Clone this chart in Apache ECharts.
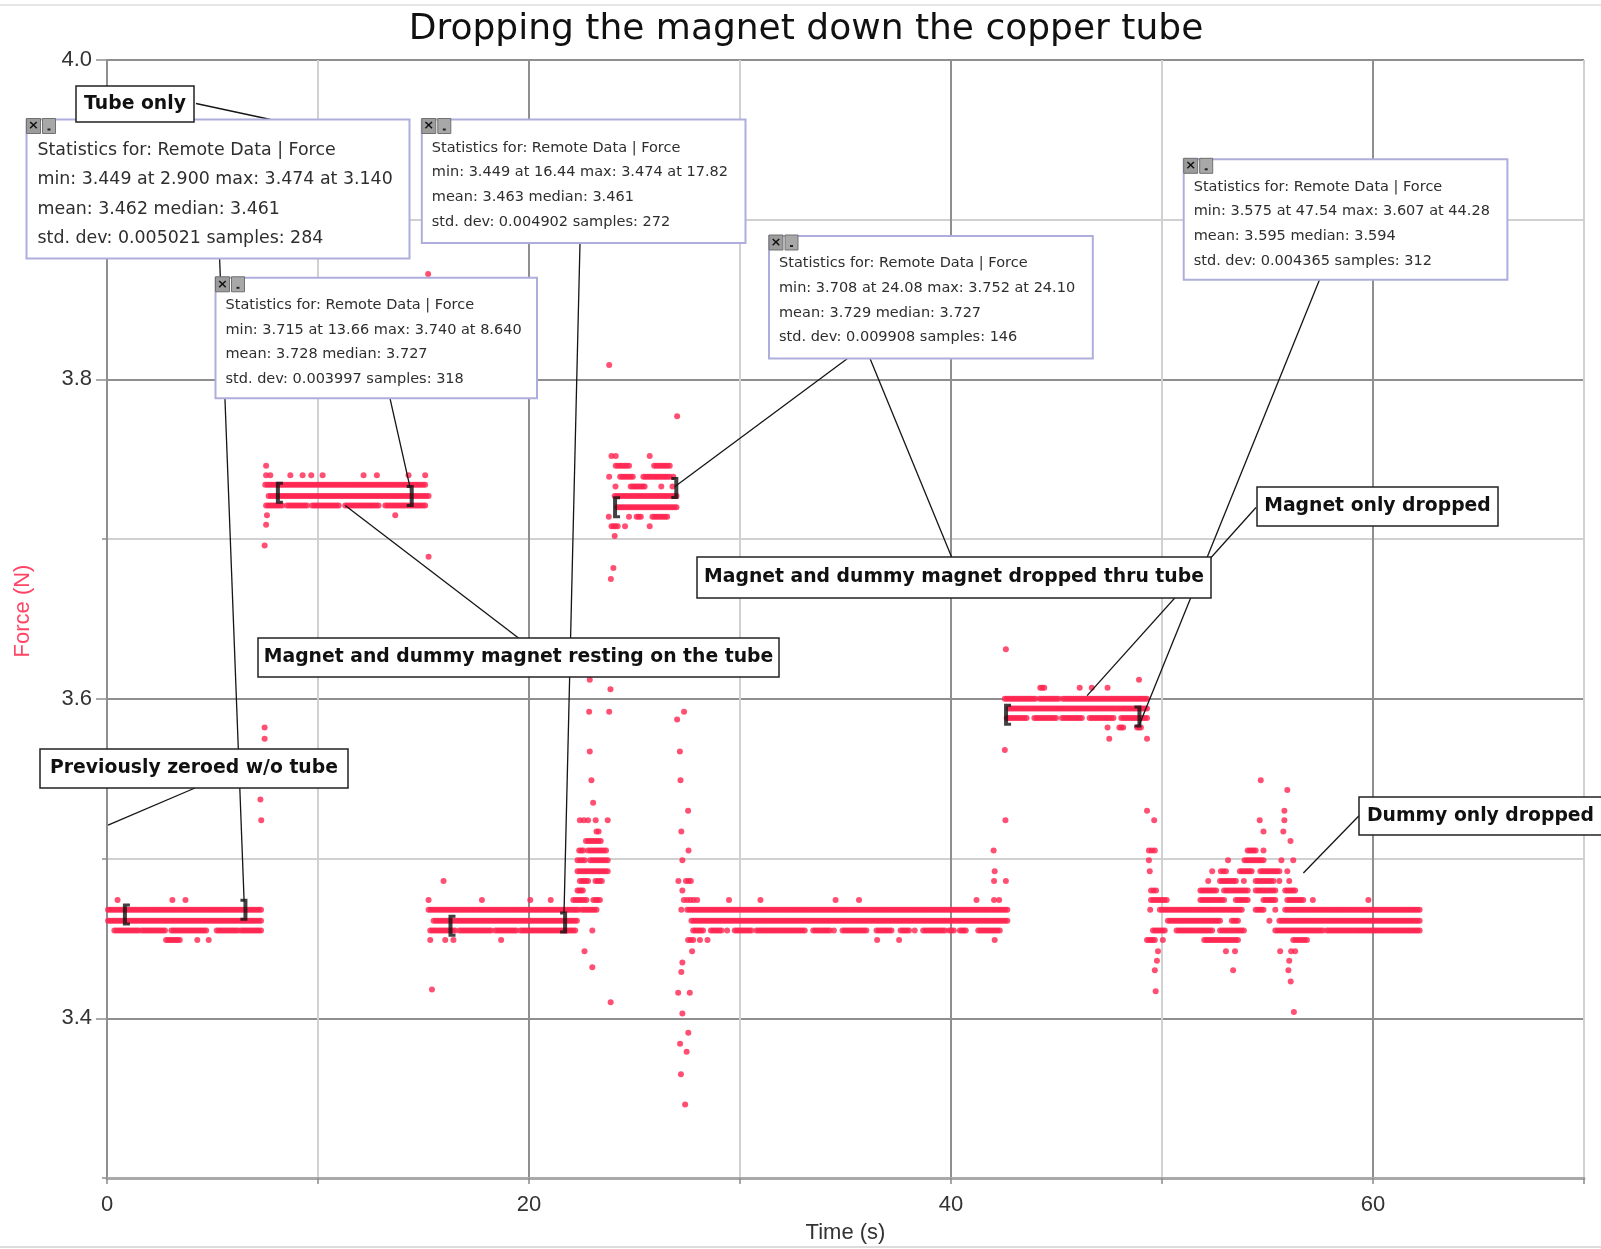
<!DOCTYPE html>
<html><head><meta charset="utf-8">
<script src="https://cdn.jsdelivr.net/npm/echarts@6/dist/echarts.min.js"></script>
<style>html,body{margin:0;padding:0;background:#fff}#c{width:1601px;height:1249px}</style>
</head><body><div id="c"></div>
<script>
// ================= DATA =================
const chartTitle = 'Dropping the magnet down the copper tube';
const xName = 'Time (s)';
const yName = 'Force (N)';
const xTickLabels = ['0', '20', '40', '60'];
const yTickLabels = ['3.4', '3.6', '3.8', '4.0'];

// Runs of consecutive samples sitting on one quantised force level: [force, tStart, tEnd]
// Isolated samples: [time, force]
const runsTubeOnly = [
  [3.468, 0.05, 7.30], [3.461, 0.05, 7.30],
  [3.455, 0.35, 1.50], [3.455, 1.65, 2.75], [3.455, 3.05, 4.70], [3.455, 5.20, 6.20], [3.455, 6.35, 7.30],
  [3.449, 2.80, 3.45]
];
const ptsTubeOnly = [[0.50,3.474],[3.10,3.474],[3.72,3.474],[4.28,3.449],[4.82,3.449],
  [7.27,3.537],[7.31,3.524],[7.47,3.582],[7.47,3.575],[7.47,3.696],[7.54,3.709]];

const runsResting = [
  [3.734, 7.50, 15.08], [3.727, 7.66, 15.24],
  [3.721, 7.54, 8.30], [3.721, 8.53, 9.48], [3.721, 9.72, 10.98], [3.721, 11.29, 12.87], [3.721, 13.19, 15.08]
];
const ptsResting = [[7.54,3.746],[7.54,3.740],[7.74,3.740],[8.69,3.740],[9.27,3.740],[9.68,3.740],[10.22,3.740],
  [12.16,3.740],[12.79,3.740],[14.29,3.740],[15.08,3.740],[7.58,3.715],[13.66,3.715],[15.22,3.866],[15.24,3.689]];

const runsTubeOnly2 = [
  [3.468, 15.24, 22.34], [3.461, 15.48, 22.27],
  [3.455, 15.32, 16.50], [3.455, 16.70, 18.20], [3.455, 18.40, 19.40], [3.455, 19.60, 22.19]
];
const ptsTubeOnly2 = [[15.24,3.474],[17.77,3.474],[20.06,3.474],[21.03,3.474],[15.32,3.449],[16.03,3.449],
  [16.42,3.449],[18.68,3.449],[15.95,3.486],[15.40,3.418]];

const runsRise = [
  [3.511, 22.70, 23.40],
  [3.505, 22.38, 22.57], [3.505, 22.80, 23.65],
  [3.499, 22.30, 22.64], [3.499, 22.90, 23.73],
  [3.492, 22.30, 23.73],
  [3.486, 22.41, 22.80], [3.486, 23.15, 23.45],
  [3.480, 22.30, 22.55],
  [3.474, 22.10, 22.72], [3.474, 23.05, 23.36],
  [3.468, 22.50, 23.20]
];
const ptsRise = [[22.41,3.524],[22.60,3.524],[22.80,3.524],[23.16,3.524],[23.73,3.524],[23.20,3.517],[23.30,3.517],
  [23.00,3.455],[22.63,3.442],[23.00,3.432],[23.87,3.410],[22.85,3.592],[22.88,3.612],[22.88,3.567],[22.96,3.549],
  [23.04,3.535],[23.80,3.592],[23.86,3.606],[23.80,3.809]];

const runsPairInTube = [
  [3.746, 24.11, 24.74], [3.746, 25.93, 26.67],
  [3.739, 24.32, 24.92], [3.739, 25.42, 26.67],
  [3.733, 24.82, 25.48],
  [3.727, 24.06, 26.99], [3.720, 24.17, 26.99],
  [3.714, 25.10, 25.30], [3.714, 25.85, 26.55],
  [3.708, 23.91, 24.20]
];
const ptsPairInTube = [[23.91,3.752],[24.11,3.752],[25.72,3.752],[23.80,3.739],[26.84,3.739],[24.10,3.733],
  [26.27,3.733],[26.80,3.733],[23.78,3.714],[24.74,3.714],[24.55,3.708],[25.72,3.708],[24.06,3.702],
  [24.00,3.682],[23.88,3.675],[27.02,3.777]];

const ptsDescent = [[27.02,3.587],[27.35,3.592],[27.15,3.567],[27.18,3.549],[27.54,3.530],[27.22,3.517],
  [27.56,3.505],[27.27,3.499],[27.08,3.486],[27.44,3.486],[27.56,3.486],[27.67,3.486],[27.27,3.480],
  [27.34,3.474],[27.50,3.474],[27.65,3.474],[27.80,3.474],[27.97,3.474],[27.22,3.468],[27.54,3.449],
  [27.66,3.449],[27.78,3.449],[28.10,3.449],[28.46,3.449],[27.73,3.442],[27.27,3.435],[27.22,3.429],
  [27.07,3.416],[27.62,3.416],[27.27,3.403],[27.55,3.391],[27.16,3.384],[27.47,3.379],[27.20,3.365],[27.40,3.346]];

const runsTubeOnly3 = [
  [3.468, 27.50, 42.67], [3.461, 27.70, 42.67],
  [3.455, 27.78, 28.25], [3.455, 28.62, 29.12], [3.455, 29.75, 30.54], [3.455, 30.78, 33.07],
  [3.455, 33.47, 34.26], [3.455, 34.86, 35.99], [3.455, 36.47, 37.18], [3.455, 37.61, 38.01],
  [3.455, 38.68, 39.71], [3.455, 39.91, 40.13], [3.455, 40.42, 40.70], [3.455, 41.29, 42.31]
];
const ptsTubeOnly3 = [[29.39,3.455],[34.45,3.455],[38.28,3.455],[29.48,3.474],[30.97,3.474],[34.53,3.474],
  [35.64,3.474],[41.21,3.474],[42.04,3.474],[42.28,3.474],[36.50,3.449],[37.54,3.449],[42.07,3.449],
  [42.04,3.486],[42.60,3.486],[42.07,3.492],[42.02,3.505],[42.58,3.524]];

const runsMagnetDrop = [
  [3.600, 42.55, 44.00], [3.600, 44.20, 45.10], [3.600, 45.30, 49.29],
  [3.594, 42.73, 49.29],
  [3.588, 42.64, 43.58], [3.588, 43.95, 44.98], [3.588, 45.26, 46.20], [3.588, 46.57, 47.70], [3.588, 48.07, 49.29],
  [3.607, 44.23, 44.42]
];
const ptsMagnetDrop = [[42.60,3.631],[48.91,3.612],[42.55,3.568],[46.10,3.607],[46.67,3.607],[47.42,3.607],
  [47.42,3.582],[47.98,3.582],[48.07,3.582],[48.16,3.582],[48.82,3.582],[48.91,3.582],[49.00,3.582],
  [47.50,3.575],[49.29,3.575]];

const runsDummyDrop = [
  [3.474, 49.48, 50.22],
  [3.468, 49.90, 53.78], [3.468, 54.44, 54.81], [3.468, 55.84, 62.21],
  [3.461, 50.28, 52.75], [3.461, 53.31, 53.60], [3.461, 55.56, 62.21],
  [3.455, 49.57, 50.13], [3.455, 50.69, 52.38], [3.455, 52.75, 53.88], [3.455, 55.37, 57.62],
  [3.455, 57.81, 60.06], [3.455, 60.15, 62.21],
  [3.449, 49.29, 49.66], [3.449, 52.00, 53.60], [3.449, 56.22, 56.87],
  [3.505, 54.06, 54.44],
  [3.499, 53.91, 54.81],
  [3.492, 52.79, 53.03], [3.492, 53.69, 54.25], [3.492, 54.66, 55.56],
  [3.486, 52.75, 53.50], [3.486, 54.44, 55.28],
  [3.480, 51.82, 52.57], [3.480, 52.94, 54.06], [3.480, 54.44, 55.37], [3.480, 55.84, 56.31],
  [3.474, 51.82, 52.94], [3.474, 53.50, 54.06], [3.474, 54.81, 55.37], [3.474, 55.94, 56.69]
];
const ptsDummyDrop = [[49.29,3.530],[49.63,3.524],[49.38,3.505],[49.52,3.505],[49.66,3.505],[49.38,3.499],
  [49.42,3.492],[49.48,3.480],[49.60,3.480],[49.72,3.480],[49.44,3.468],[55.37,3.468],[55.09,3.461],
  [50.04,3.449],[49.81,3.442],[53.03,3.442],[53.46,3.442],[55.60,3.442],[56.12,3.442],[56.31,3.442],
  [49.76,3.436],[56.03,3.436],[49.66,3.430],[53.37,3.430],[55.99,3.430],[56.10,3.423],[49.70,3.417],[56.25,3.404],
  [54.68,3.549],[55.94,3.543],[54.63,3.524],[54.81,3.517],[55.80,3.530],[55.80,3.524],[55.75,3.517],
  [56.09,3.511],[54.81,3.505],[53.13,3.499],[55.66,3.499],[56.22,3.499],[52.38,3.492],[55.94,3.492],
  [52.19,3.486],[53.88,3.486],[55.56,3.486],[56.03,3.486],[57.15,3.474],[59.78,3.474]];

// Statistics selection end markers: [time, force]
const selStarts = [[0.92,3.465],[8.17,3.729],[16.35,3.458],[24.15,3.720],[42.68,3.590]];
const selEnds   = [[6.49,3.468],[14.37,3.727],[21.64,3.460],[26.91,3.732],[48.86,3.589]];

// Annotation texts
const statTexts = [
  ['Statistics for: Remote Data | Force','min: 3.449 at 2.900 max: 3.474 at 3.140','mean: 3.462 median: 3.461','std. dev: 0.005021 samples: 284'],
  ['Statistics for: Remote Data | Force','min: 3.715 at 13.66 max: 3.740 at 8.640','mean: 3.728 median: 3.727','std. dev: 0.003997 samples: 318'],
  ['Statistics for: Remote Data | Force','min: 3.449 at 16.44 max: 3.474 at 17.82','mean: 3.463 median: 3.461','std. dev: 0.004902 samples: 272'],
  ['Statistics for: Remote Data | Force','min: 3.708 at 24.08 max: 3.752 at 24.10','mean: 3.729 median: 3.727','std. dev: 0.009908 samples: 146'],
  ['Statistics for: Remote Data | Force','min: 3.575 at 47.54 max: 3.607 at 44.28','mean: 3.595 median: 3.594','std. dev: 0.004365 samples: 312']
];
const labelTexts = ['Tube only','Magnet and dummy magnet resting on the tube','Previously zeroed w/o tube',
  'Magnet and dummy magnet dropped thru tube','Magnet only dropped','Dummy only dropped'];
// Data points the leader lines point at: [time, force]
const leaderTargets = [[6.50,3.473],[14.37,3.732],[21.66,3.466],[26.92,3.733],[48.93,3.584],[46.45,3.602],
  [11.29,3.721],[0.05,3.521],[56.70,3.491]];

// ================= LAYOUT (pixels) =================
const statBoxLayout = [
  {x:26.5, y:119.5, w:383,   h:139,   font:17.4, pad:11, first:30.5, gap:29.6},
  {x:215.5,y:277.8, w:321.5, h:120.5, font:14.5, pad:10, first:27.5, gap:24.7},
  {x:421.8,y:119.5, w:323.7, h:123.5, font:14.5, pad:10, first:28.5, gap:24.7},
  {x:769,  y:236,   w:323.8, h:122.5, font:14.5, pad:10, first:27.5, gap:24.7},
  {x:1183.7,y:159.3,w:323.7, h:120.5, font:14.5, pad:10, first:27.5, gap:24.7}
];
const labelLayout = [
  {x:76, y:86, w:118, h:36}, {x:258, y:638, w:521, h:39}, {x:40, y:749, w:308, h:39},
  {x:697, y:557, w:514, h:41}, {x:1257, y:487, w:241, h:39}, {x:1359, y:797, w:252, h:38, left:1367}
];
const leaderStarts = [[219.6,258.4],[390,398.3],[580,243],[847.5,358.5],[1319.5,279.8],[1256,507.5],
  [518.5,638],[195,788],[1359,815.7]];
const boxToBoxLines = [[[196,103.5],[270.5,119.5]], [[951.6,557],[870,358.5]]];

const PLOT_STEP = 0.1; // spacing of drawn samples along a run (s)
function runSamples(runs) {
  const pts = [];
  for (const [f, t0, t1] of runs) {
    const n = Math.max(1, Math.round((t1 - t0) / PLOT_STEP));
    for (let i = 0; i <= n; i++) pts.push([t0 + (t1 - t0) * i / n, f]);
  }
  return pts;
}
const allPts = [].concat(
  runSamples(runsTubeOnly), ptsTubeOnly, runSamples(runsResting), ptsResting,
  runSamples(runsTubeOnly2), ptsTubeOnly2, runSamples(runsRise), ptsRise,
  runSamples(runsPairInTube), ptsPairInTube, ptsDescent, runSamples(runsTubeOnly3), ptsTubeOnly3,
  runSamples(runsMagnetDrop), ptsMagnetDrop, runSamples(runsDummyDrop), ptsDummyDrop);

const chart = echarts.init(document.getElementById('c'));
const FONT = 'Liberation Sans, Arial, sans-serif';
chart.setOption({
  animation: false,
  backgroundColor: '#fff',
  grid: {left: 107, right: 17, top: 60, bottom: 71},
  xAxis: {
    type: 'value', min: 0, max: 70, interval: 10,
    axisLine: {show: true, onZero: false, lineStyle: {color: '#a9a9a9', width: 3}},
    axisTick: {show: true, length: 6, lineStyle: {color: '#8a8a8a', width: 1.5}},
    axisLabel: {formatter: v => xTickLabels.includes(String(Math.round(v))) ? String(Math.round(v)) : '',
      fontSize: 22, color: '#333', fontFamily: FONT, margin: 16},
    splitLine: {show: true, lineStyle: {color: ['#8f8f8f', '#d0d0d0'], width: 2}}
  },
  yAxis: [{
    type: 'value', min: 3.3, max: 4.0, interval: 0.1,
    axisLine: {show: true, lineStyle: {color: '#8f8f8f', width: 2}},
    axisTick: {show: true, length: 5, lineStyle: {color: '#8f8f8f', width: 1.5}},
    axisLabel: {show: false},
    splitLine: {show: true, lineStyle: {color: ['#d0d0d0', '#8f8f8f'], width: 2}}
  }, {
    type: 'value', min: 3.3, max: 4.0, position: 'left',
    axisLine: {show: false}, splitLine: {show: false},
    axisTick: {show: true, length: 11, customValues: yTickLabels.map(Number), lineStyle: {color: '#8f8f8f', width: 1.5}},
    axisLabel: {show: true, customValues: yTickLabels.map(Number),
      formatter: v => { const s = (+v).toFixed(1); return yTickLabels.includes(s) ? s : ''; },
      fontSize: 22, color: '#333', fontFamily: FONT, margin: 15}
  }],
  series: [
    {type: 'scatter', name: 'Force', data: allPts, symbol: 'circle', symbolSize: 6,
      itemStyle: {color: '#ff2450'}, silent: true, z: 2},
    {type: 'scatter', name: 'sel start', data: selStarts, symbol: 'path://M0,0H7V3H4V19H7V22H0Z',
      symbolSize: [7, 22], itemStyle: {color: '#111'}, silent: true, z: 4},
    {type: 'scatter', name: 'sel end', data: selEnds, symbol: 'path://M0,0H7V22H0V19H3V3H0Z',
      symbolSize: [7, 22], itemStyle: {color: '#111'}, silent: true, z: 4}
  ]
});

// ---- annotations ----
const els = [];
els.push({type: 'line', shape: {x1: 0, y1: 5, x2: 1601, y2: 5}, style: {stroke: '#e6e6e6', lineWidth: 2}, z: 1});
els.push({type: 'line', shape: {x1: 0, y1: 1247, x2: 1601, y2: 1247}, style: {stroke: '#dcdcdc', lineWidth: 2}, z: 1});
els.push({type: 'text', x: 806, y: 30, z: 120, style: {text: chartTitle, font: '36px DejaVu Sans', fill: '#111',
  textAlign: 'center', textVerticalAlign: 'middle'}});
els.push({type: 'text', x: 845.5, y: 1233, z: 120, style: {text: xName, font: '22px ' + FONT, fill: '#333',
  textAlign: 'center', textVerticalAlign: 'middle'}});
els.push({type: 'text', x: 22.5, y: 611, rotation: Math.PI / 2, z: 120, style: {text: yName, font: '22px ' + FONT,
  fill: '#ff4466', textAlign: 'center', textVerticalAlign: 'middle'}});

leaderTargets.forEach((tg, i) => {
  const p = chart.convertToPixel({xAxisIndex: 0, yAxisIndex: 0}, tg);
  const s = leaderStarts[i];
  els.push({type: 'line', shape: {x1: s[0], y1: s[1], x2: p[0], y2: p[1]}, style: {stroke: '#151515', lineWidth: 1.3}, z: 50});
});
boxToBoxLines.forEach(([a, b]) => {
  els.push({type: 'line', shape: {x1: a[0], y1: a[1], x2: b[0], y2: b[1]}, style: {stroke: '#151515', lineWidth: 1.3}, z: 50});
});

statTexts.forEach((lines, i) => {
  const L = statBoxLayout[i];
  els.push({type: 'rect', shape: {x: L.x, y: L.y, width: L.w, height: L.h},
    style: {fill: '#fff', stroke: '#aeaedc', lineWidth: 2}, z: 100});
  lines.forEach((t, k) => {
    els.push({type: 'text', x: L.x + L.pad, y: L.y + L.first + k * L.gap, z: 101,
      style: {text: t, font: L.font + 'px DejaVu Sans', fill: '#2e2e2e', textAlign: 'left', textVerticalAlign: 'middle'}});
  });
  // close / minimise buttons
  const bx = L.x, by = L.y - 1;
  els.push({type: 'rect', shape: {x: bx, y: by, width: 14, height: 15}, style: {fill: '#9c9c9c', stroke: '#707070', lineWidth: 1}, z: 102});
  els.push({type: 'text', x: bx + 7, y: by + 7.5, z: 103, style: {text: '×', font: 'bold 13px DejaVu Sans', fill: '#111', textAlign: 'center', textVerticalAlign: 'middle'}});
  els.push({type: 'rect', shape: {x: bx + 16, y: by, width: 13, height: 15}, style: {fill: '#a8a8a8', stroke: '#707070', lineWidth: 1}, z: 102});
  els.push({type: 'rect', shape: {x: bx + 21, y: by + 10, width: 3, height: 2}, style: {fill: '#222'}, z: 103});
});

labelTexts.forEach((t, i) => {
  const L = labelLayout[i];
  els.push({type: 'rect', shape: {x: L.x, y: L.y, width: L.w, height: L.h},
    style: {fill: '#fff', stroke: '#222', lineWidth: 1.5}, z: 100});
  els.push({type: 'text', x: L.left !== undefined ? L.left : L.x + L.w / 2, y: L.y + L.h / 2, z: 101,
    style: {text: t, font: 'bold 18.8px DejaVu Sans', fill: '#111',
      textAlign: L.left !== undefined ? 'left' : 'center', textVerticalAlign: 'middle'}});
});

chart.setOption({graphic: {elements: els}});
</script></body></html>
